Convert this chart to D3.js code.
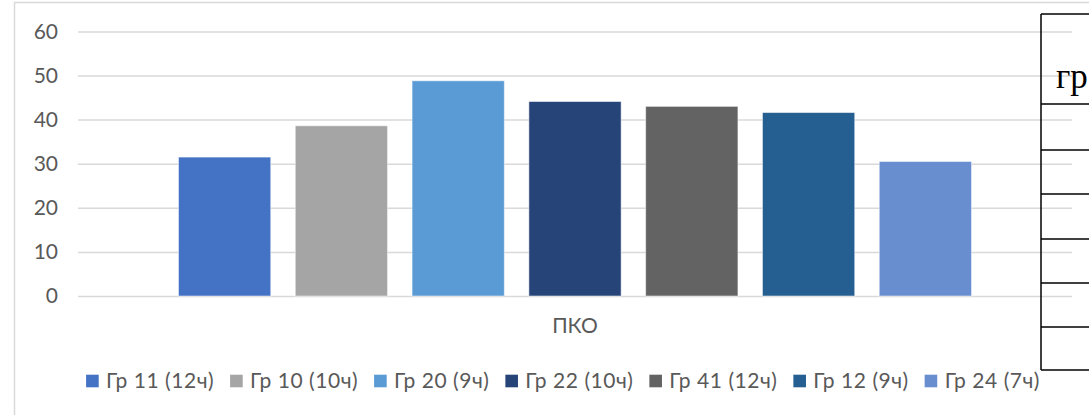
<!DOCTYPE html>
<html>
<head>
<meta charset="utf-8">
<script src="https://cdnjs.cloudflare.com/ajax/libs/d3/7.8.5/d3.min.js"></script>
<style>
  body { margin: 0; background: #fff; }
  svg { display: block; }
  text { font-family: Lato, "Open Sans", sans-serif; }
</style>
</head>
<body>
<svg width="1089" height="415"></svg>
<script>
// chart data
var category = "ПКО";
var groups = ["Гр 11 (12ч)", "Гр 10 (10ч)", "Гр 20 (9ч)", "Гр 22 (10ч)", "Гр 41 (12ч)", "Гр 12 (9ч)", "Гр 24 (7ч)"];
var values = [31.5, 38.6, 48.8, 44.1, 43.0, 41.6, 30.5];
var colors = ["#4472c4", "#a5a5a5", "#5b9bd5", "#264478", "#636363", "#255e91", "#698ed0"];
var yTicks = [0, 10, 20, 30, 40, 50, 60];

var svg = d3.select("svg");
var textColor = "#595959";

// chart frame (the chart box from the document)
svg.append("path")
  .attr("d", "M14.5,415V2.5H1089")
  .attr("fill", "none")
  .attr("stroke", "#d9d9d9")
  .attr("stroke-width", 1.5);

var plot = { left: 78, right: 1072, top: 31.4, bottom: 296 };

var y = d3.scaleLinear()
  .domain([0, 60])
  .range([plot.bottom, plot.top]);

// one category, the series sit side by side inside it
var x0 = d3.scaleBand()
  .domain([category])
  .range([plot.left, plot.right])
  .paddingOuter(0.1267);

var x1 = d3.scaleBand()
  .domain(groups)
  .range([0, x0.bandwidth()])
  .paddingInner(0.21);

// gridlines
var yAxis = svg.append("g")
  .attr("transform", "translate(" + plot.left + ",0)")
  .call(d3.axisLeft(y)
    .tickValues(yTicks)
    .tickSize(-(plot.right - plot.left))
    .tickPadding(20));
yAxis.select(".domain").remove();
yAxis.selectAll(".tick line")
  .attr("stroke", "#d9d9d9")
  .attr("stroke-width", 1.5);
yAxis.selectAll(".tick text")
  .attr("fill", textColor)
  .style("font-size", "21px")
  .style("font-family", "Lato, sans-serif");

// bars
svg.append("g")
  .selectAll("rect")
  .data(groups)
  .enter().append("rect")
    .attr("x", function(d) { return x0(category) + x1(d); })
    .attr("y", function(d, i) { return y(values[i]); })
    .attr("width", x1.bandwidth())
    .attr("height", function(d, i) { return y(0) - y(values[i]); })
    .attr("fill", function(d, i) { return colors[i]; })
    .attr("stroke", "#fff")
    .attr("stroke-opacity", 0.5)
    .attr("stroke-width", 1);

// category label
svg.append("text")
  .attr("x", x0(category) + x0.bandwidth() / 2)
  .attr("y", 326)
  .attr("dy", "0.35em")
  .attr("text-anchor", "middle")
  .attr("fill", textColor)
  .style("font-size", "21px")
  .text(category);

// legend, laid out from the measured text widths and centred
var legend = svg.append("g");
var items = legend.selectAll("g")
  .data(groups)
  .enter().append("g");
items.append("rect")
  .attr("width", 12.6)
  .attr("height", 12.6)
  .attr("y", -6.3)
  .attr("fill", function(d, i) { return colors[i]; });
items.append("text")
  .attr("x", 20)
  .attr("dy", "0.35em")
  .attr("fill", textColor)
  .style("font-size", "21px")
  .style("letter-spacing", "0.55px")
  .text(function(d) { return d; });

var pos = 0;
items.each(function() {
  var w = 20 + d3.select(this).select("text").node().getComputedTextLength();
  d3.select(this).attr("transform", "translate(" + pos + ",0)");
  pos += w + 16;
});
var legendWidth = pos - 16;
legend.attr("transform", "translate(" + (563 - legendWidth / 2) + ",381)");

// edge of the neighbouring table in the document
var table = svg.append("g")
  .attr("stroke", "#000")
  .attr("stroke-width", 1.5)
  .attr("fill", "none");
var rowLines = [14, 104, 150, 194, 239, 283, 327, 370];
table.append("line")
  .attr("x1", 1041).attr("x2", 1041)
  .attr("y1", rowLines[0]).attr("y2", rowLines[rowLines.length - 1]);
table.selectAll("line.row")
  .data(rowLines)
  .enter().append("line")
    .attr("class", "row")
    .attr("x1", 1041).attr("x2", 1089)
    .attr("y1", function(d) { return d; })
    .attr("y2", function(d) { return d; });

svg.append("text")
  .attr("x", 1056)
  .attr("y", 88)
  .style("font-family", "'Liberation Serif', serif")
  .style("font-size", "35px")
  .attr("fill", "#000")
  .text("гр");
</script>
</body>
</html>
